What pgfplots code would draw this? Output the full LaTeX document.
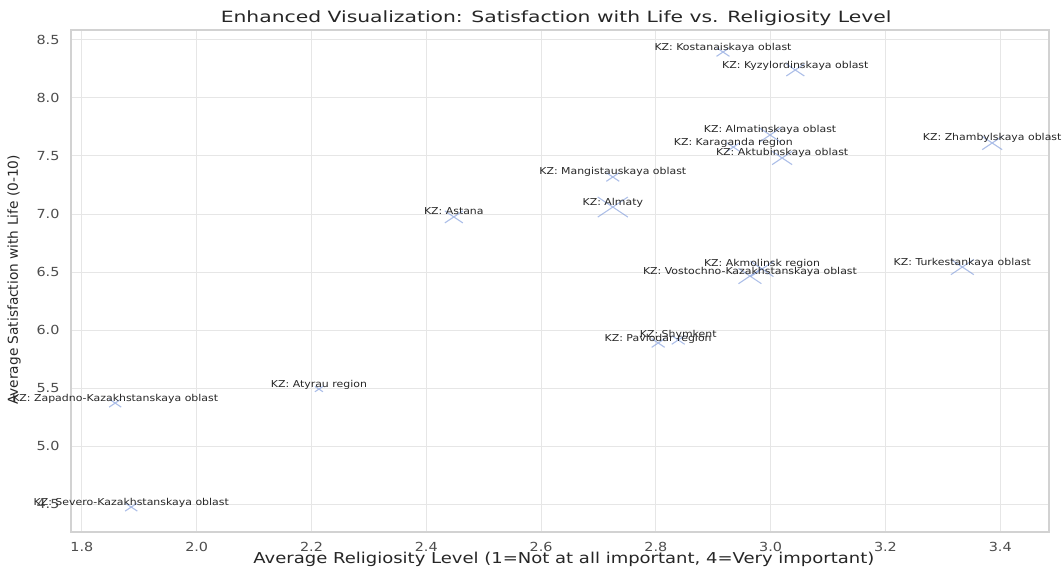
\documentclass[border=0pt]{standalone}
\usepackage{pgfplots}
\pgfplotsset{compat=1.18}
\usepackage{pgfplotstable}
\usepackage{fontspec}
\setmainfont{DejaVu Sans}
\newfontfamily\hfont[FakeStretch=1.15]{DejaVu Sans}
\newfontfamily\xlfont[FakeStretch=1.2]{DejaVu Sans}
\newfontfamily\tfont[FakeStretch=1.31]{DejaVu Sans}

\definecolor{txt}{HTML}{262626}
\definecolor{tickc}{HTML}{4D4D4D}
\definecolor{gridc}{HTML}{E6E6E6}
\definecolor{framec}{HTML}{D2D2D2}
\definecolor{mk}{HTML}{7F9BDB}

% region means: religiosity (x), life satisfaction (y), marker size (s)
\pgfplotstableread[col sep=comma]{
x,y,s,label
2.917,8.396,6.1,KZ: Kostanaiskaya oblast
3.043,8.241,8.5,KZ: Kyzylordinskaya oblast
2.999,7.681,10.4,KZ: Almatinskaya oblast
2.935,7.577,6.1,KZ: Karaganda region
3.020,7.483,9.4,KZ: Aktubinskaya oblast
3.386,7.612,9.4,KZ: Zhambylskaya oblast
2.725,7.319,6.1,KZ: Mangistauskaya oblast
2.725,7.060,14.2,KZ: Almaty
2.448,6.975,8.5,KZ: Astana
2.985,6.526,10.8,KZ: Akmolinsk region
2.964,6.465,10.8,KZ: Vostochno-Kazakhstanskaya oblast
3.334,6.543,10.8,KZ: Turkestankaya oblast
2.804,5.888,6.1,KZ: Pavlodar region
2.839,5.914,6.1,KZ: Shymkent
2.213,5.491,3.8,KZ: Atyrau region
1.858,5.370,5.7,KZ: Zapadno-Kazakhstanskaya oblast
1.886,4.474,5.7,KZ: Severo-Kazakhstanskaya oblast
}\regions

\begin{document}
\begin{tikzpicture}
\begin{axis}[
    name=ax,
    scale only axis,
    width=978pt, height=502pt,
    xmin=1.781, xmax=3.485,
    ymin=4.259, ymax=8.586,
    xtick={1.8,2,2.2,2.4,2.6,2.8,3,3.2,3.4},
    xticklabels={1.8,2.0,2.2,2.4,2.6,2.8,3.0,3.2,3.4},
    ytick={4.5,5,5.5,6,6.5,7,7.5,8,8.5},
    yticklabels={4.5,5.0,5.5,6.0,6.5,7.0,7.5,8.0,8.5},
    tick label style={font=\hfont\fontsize{12.5}{14}\selectfont, text=tickc},
    xticklabel style={yshift=-7pt},
    yticklabel style={xshift=-8pt},
    major tick length=0pt,
    grid=major,
    major grid style={gridc, line width=1pt},
    axis line style={framec, line width=1.2pt},
    clip=false,
    title={Enhanced Visualization: Satisfaction with Life vs. Religiosity Level},
    title style={font=\tfont\fontsize{15.5}{17}\selectfont, text=txt,
        at={(axis description cs:0.496,1)}, anchor=base, yshift=1pt},
    xlabel={Average Religiosity Level (1=Not at all important, 4=Very important)},
    xlabel style={font=\xlfont\fontsize{15}{17}\selectfont, text=txt,
        at={(axis description cs:0.504,0)}, anchor=base, yshift=-31pt},
    ylabel={Average Satisfaction with Life (0-10)},
    ylabel style={font=\fontsize{13.7}{15}\selectfont, text=txt,
        at={(axis description cs:-0.0542,0.502)}, anchor=base},
]
% markers, size per region
\addplot[
    only marks, scatter, mark=x,
    point meta=\thisrow{s},
    visualization depends on={\thisrow{s}\as\msz},
    scatter/use mapped color={draw=mk, fill=mk},
    scatter/@pre marker code/.append style={/tikz/mark size=\msz pt},
    mark options={xscale=1.5, line width=1.1pt, draw opacity=0.65},
] table[x=x, y=y] {\regions};
% region names
\addplot[
    only marks, mark=none,
    point meta=explicit symbolic,
    nodes near coords,
    every node near coord/.append style={font=\hfont\fontsize{9.5}{11}\selectfont,
        text=txt, anchor=base, yshift=2pt, inner sep=0pt},
] table[x=x, y=y, meta=label] {\regions};
\end{axis}
\pgfresetboundingbox
\path[use as bounding box] ([shift={(-71pt,-36pt)}]ax.south west)
    rectangle ([shift={(13pt,30pt)}]ax.north east);
\end{tikzpicture}
\end{document}
